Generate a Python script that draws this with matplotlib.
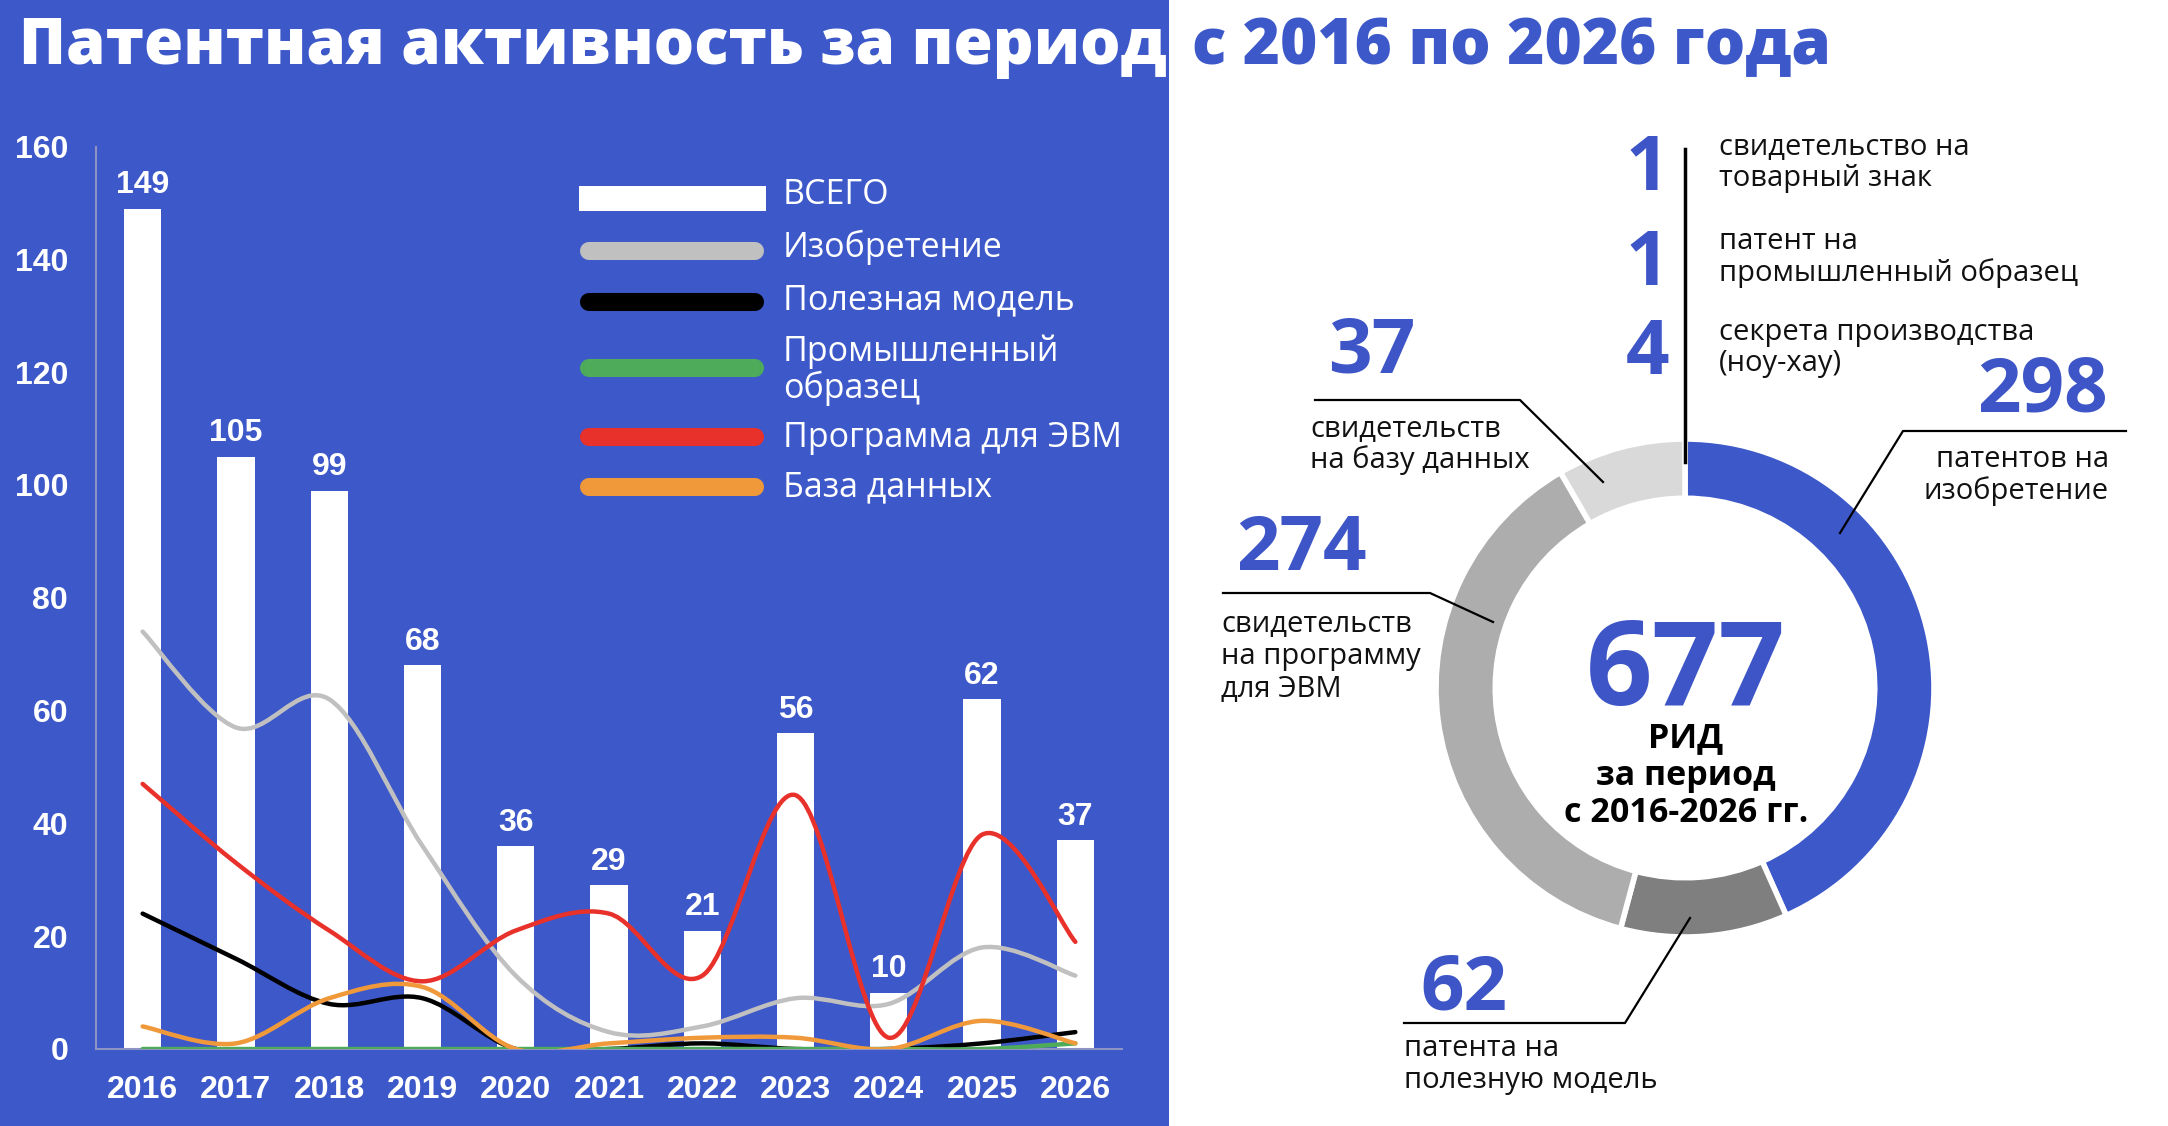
import numpy as np
import matplotlib
matplotlib.use("Agg")
import matplotlib.pyplot as plt
from matplotlib.path import Path
from matplotlib.patches import PathPatch, Rectangle
from matplotlib.lines import Line2D

# ---------------- data ----------------
years = ['2016', '2017', '2018', '2019', '2020', '2021', '2022', '2023', '2024', '2025', '2026']
total = [149, 105, 99, 68, 36, 29, 21, 56, 10, 62, 37]
invention = [74, 57, 62, 36, 13, 3, 4, 9, 8, 18, 13]
utility = [24, 16, 8, 9, 0, 0, 1, 0, 0, 1, 3]
industrial = [0, 0, 0, 0, 0, 0, 0, 0, 0, 0, 1]
software = [47, 33, 21, 12, 21, 24, 13, 45, 2, 38, 19]
database = [4, 1, 9, 11, 0, 1, 2, 2, 0, 5, 1]

series_names = ['Изобретение', 'Полезная модель', 'Промышленный\nобразец', 'Программа для ЭВМ', 'База данных']
total_name = 'ВСЕГО'

# donut: labelled counts and the ring shares as drawn in the picture (degrees)
donut_values = [298, 62, 274, 37]
donut_shares = [156, 39, 135, 30]
small_counts = [1, 1, 4]
small_labels = [['свидетельство на', 'товарный знак'],
                ['патент на', 'промышленный образец'],
                ['секрета производства', '(ноу-хау)']]
grand_total = 677

title_a = 'Патентная активность за период'
title_b = 'с 2016 по 2026 года'

# ---------------- style ----------------
BLUE = '#3d58c9'
NUMBLUE = '#3d55c6'
C_GRAY = '#c0c0c0'
C_BLACK = '#000000'
C_GREEN = '#4eab5a'
C_RED = '#e8312a'
C_ORANGE = '#f0993b'
line_colors = [C_GRAY, C_BLACK, C_GREEN, C_RED, C_ORANGE]
donut_colors = [BLUE, '#7f7f7f', '#adadad', '#d9d9d9']

W, H = 2168, 1126
fig = plt.figure(figsize=(W / 100, H / 100), dpi=100)
fig.patch.set_facecolor('white')

def fx(x):
    return x / W

def fy(y):
    return 1 - y / H

BLUE_EDGE = 1169
fig.add_artist(Rectangle((0, 0), fx(BLUE_EDGE), 1, transform=fig.transFigure,
                         facecolor=BLUE, edgecolor='none', zorder=0))

TFONT = ['Open Sans', 'DejaVu Sans']
NFONT = ['Liberation Sans', 'DejaVu Sans']

# ---------------- title ----------------
renderer = fig.canvas.get_renderer()
ta = fig.text(fx(19), fy(64), title_a, color='white', fontsize=40, fontweight='heavy',
              family=TFONT, va='baseline', ha='left')
wa = ta.get_window_extent(renderer).width
fs = 40 * (1146 / wa)
ta.set_fontsize(fs)
tb = fig.text(fx(1192), fy(64), title_b, color=BLUE, fontsize=fs, fontweight='heavy',
              family=TFONT, va='baseline', ha='left')

# ---------------- bar + line chart ----------------
ax = fig.add_axes([fx(96), fy(1049), fx(1122) - fx(96), fy(146.5) - fy(1049)])
ax.set_facecolor('none')
x = np.arange(len(years))
bars = ax.bar(x, total, width=0.4, color='white', zorder=2)
ax.bar_label(bars, labels=[str(v) for v in total], padding=6, color='white',
             fontsize=23, fontweight='bold', family=NFONT)

def smooth_path(xs, ys):
    pts = np.column_stack([xs, ys]).astype(float)
    verts = [pts[0]]
    codes = [Path.MOVETO]
    n = len(pts)
    for i in range(n - 1):
        p0 = pts[i - 1] if i > 0 else pts[i]
        p1 = pts[i]
        p2 = pts[i + 1]
        p3 = pts[i + 2] if i + 2 < n else pts[i + 1]
        c1 = p1 + (p2 - p0) / 6.0
        c2 = p2 - (p3 - p1) / 6.0
        verts += [c1, c2, p2]
        codes += [Path.CURVE4] * 3
    return Path(verts, codes)

series = [invention, utility, industrial, software, database]
draw_order = [0, 3, 1, 4, 2]
for k in draw_order:
    p = smooth_path(x, series[k])
    ax.add_patch(PathPatch(p, fill=False, edgecolor=line_colors[k], lw=3.2,
                           capstyle='round', joinstyle='round', zorder=3 + k * 0.1))

ax.set_xlim(-0.5, 10.5)
ax.set_ylim(0, 160)
ax.set_yticks(np.arange(0, 161, 20))
ax.set_xticks(x)
ax.set_xticklabels(years)
ax.tick_params(axis='both', length=0, labelcolor='white', labelsize=23)
ax.tick_params(axis='y', pad=20)
ax.tick_params(axis='x', pad=19)
for lbl in ax.get_xticklabels() + ax.get_yticklabels():
    lbl.set_fontweight('bold')
    lbl.set_family(NFONT)
for s in ['top', 'right']:
    ax.spines[s].set_visible(False)
for s in ['left', 'bottom']:
    ax.spines[s].set_color('#8d93c4')
    ax.spines[s].set_linewidth(1.5)

# ---------------- legend (manual) ----------------
LFS = 24.5
fig.add_artist(Rectangle((fx(579), fy(211)), fx(766) - fx(579), fy(186) - fy(211),
                         transform=fig.transFigure, facecolor='white', edgecolor='none'))
fig.text(fx(783), fy(204), total_name, color='white', fontsize=LFS, family=TFONT, va='baseline')
leg_line_y = [251, 302, 368, 437, 487]
leg_text_base = [[257], [309], [361, 398], [447], [496]]
for k in range(5):
    yy = fy(leg_line_y[k])
    fig.add_artist(Line2D([fx(589), fx(755)], [yy, yy], transform=fig.transFigure,
                          color=line_colors[k], lw=13, solid_capstyle='round'))
    for line_txt, b in zip(series_names[k].split('\n'), leg_text_base[k]):
        fig.text(fx(783), fy(b), line_txt, color='white', fontsize=LFS, family=TFONT, va='baseline')

# ---------------- donut ----------------
CX, CY, R = 1685, 688, 249
half = 260
ax2 = fig.add_axes([fx(CX - half), fy(CY + half), fx(2 * half), 2 * half / H])
ax2.pie(donut_shares, radius=1.0, startangle=90, counterclock=False, colors=donut_colors,
        wedgeprops=dict(width=0.238, edgecolor='white', linewidth=4))
ax2.set_xlim(-half / R, half / R)
ax2.set_ylim(-half / R, half / R)
ax2.set_aspect('equal')
ax2.axis('off')

# center text
fig.text(fx(1686), fy(705), str(grand_total), color=NUMBLUE, fontsize=84, fontweight='bold',
         family=TFONT, ha='center', va='baseline')
center_lines = ['РИД', 'за период', 'с 2016-2026 гг.']
center_base = [747, 785, 822]
for t, b in zip(center_lines, center_base):
    fig.text(fx(1686), fy(b), t, color='black', fontsize=24.5, fontweight='bold',
             family=TFONT, ha='center', va='baseline')

# top small counts
NFS = 55
TFS = 21
count_base = [190, 285, 374]
label_base = [[155, 186], [249, 281], [340, 371]]
for c, b, lab, lb in zip(small_counts, count_base, small_labels, label_base):
    fig.text(fx(1669), fy(b), str(c), color=NUMBLUE, fontsize=NFS, fontweight='bold',
             family=TFONT, ha='right', va='baseline')
    for t, bb in zip(lab, lb):
        fig.text(fx(1719), fy(bb), t, color='#111111', fontsize=TFS, family=TFONT,
                 ha='left', va='baseline')

fig.add_artist(Line2D([fx(1685), fx(1685)], [fy(149), fy(462)], transform=fig.transFigure,
                      color='black', lw=2.5))

# callouts for donut slices
def leader(points):
    xs = [fx(p[0]) for p in points]
    ys = [fy(p[1]) for p in points]
    fig.add_artist(Line2D(xs, ys, transform=fig.transFigure, color='black', lw=1.6))

# 298 invention
fig.text(fx(2108), fy(411), str(donut_values[0]), color=NUMBLUE, fontsize=NFS, fontweight='bold',
         family=TFONT, ha='right', va='baseline')
leader([(2126, 431), (1903, 431), (1840, 533)])
for t, b in zip(['патентов на', 'изобретение'], [467, 499]):
    fig.text(fx(2109), fy(b), t, color='#111111', fontsize=TFS, family=TFONT, ha='right', va='baseline')

# 37 database
fig.text(fx(1328), fy(372), str(donut_values[3]), color=NUMBLUE, fontsize=NFS, fontweight='bold',
         family=TFONT, ha='left', va='baseline')
leader([(1315, 400), (1520, 400), (1603, 482)])
for t, b in zip(['свидетельств', 'на базу данных'], [437, 468]):
    fig.text(fx(1310), fy(b), t, color='#111111', fontsize=TFS, family=TFONT, ha='left', va='baseline')

# 274 software
fig.text(fx(1236), fy(570), str(donut_values[2]), color=NUMBLUE, fontsize=NFS, fontweight='bold',
         family=TFONT, ha='left', va='baseline')
leader([(1223, 593), (1430, 593), (1493, 622)])
for t, b in zip(['свидетельств', 'на программу', 'для ЭВМ'], [632, 664, 697]):
    fig.text(fx(1221), fy(b), t, color='#111111', fontsize=TFS, family=TFONT, ha='left', va='baseline')

# 62 utility model
fig.text(fx(1420), fy(1010), str(donut_values[1]), color=NUMBLUE, fontsize=NFS, fontweight='bold',
         family=TFONT, ha='left', va='baseline')
leader([(1404, 1023), (1625, 1023), (1690, 918)])
for t, b in zip(['патента на', 'полезную модель'], [1056, 1088]):
    fig.text(fx(1404), fy(b), t, color='#111111', fontsize=TFS, family=TFONT, ha='left', va='baseline')

fig.savefig('out.png', dpi=100, facecolor='white')
